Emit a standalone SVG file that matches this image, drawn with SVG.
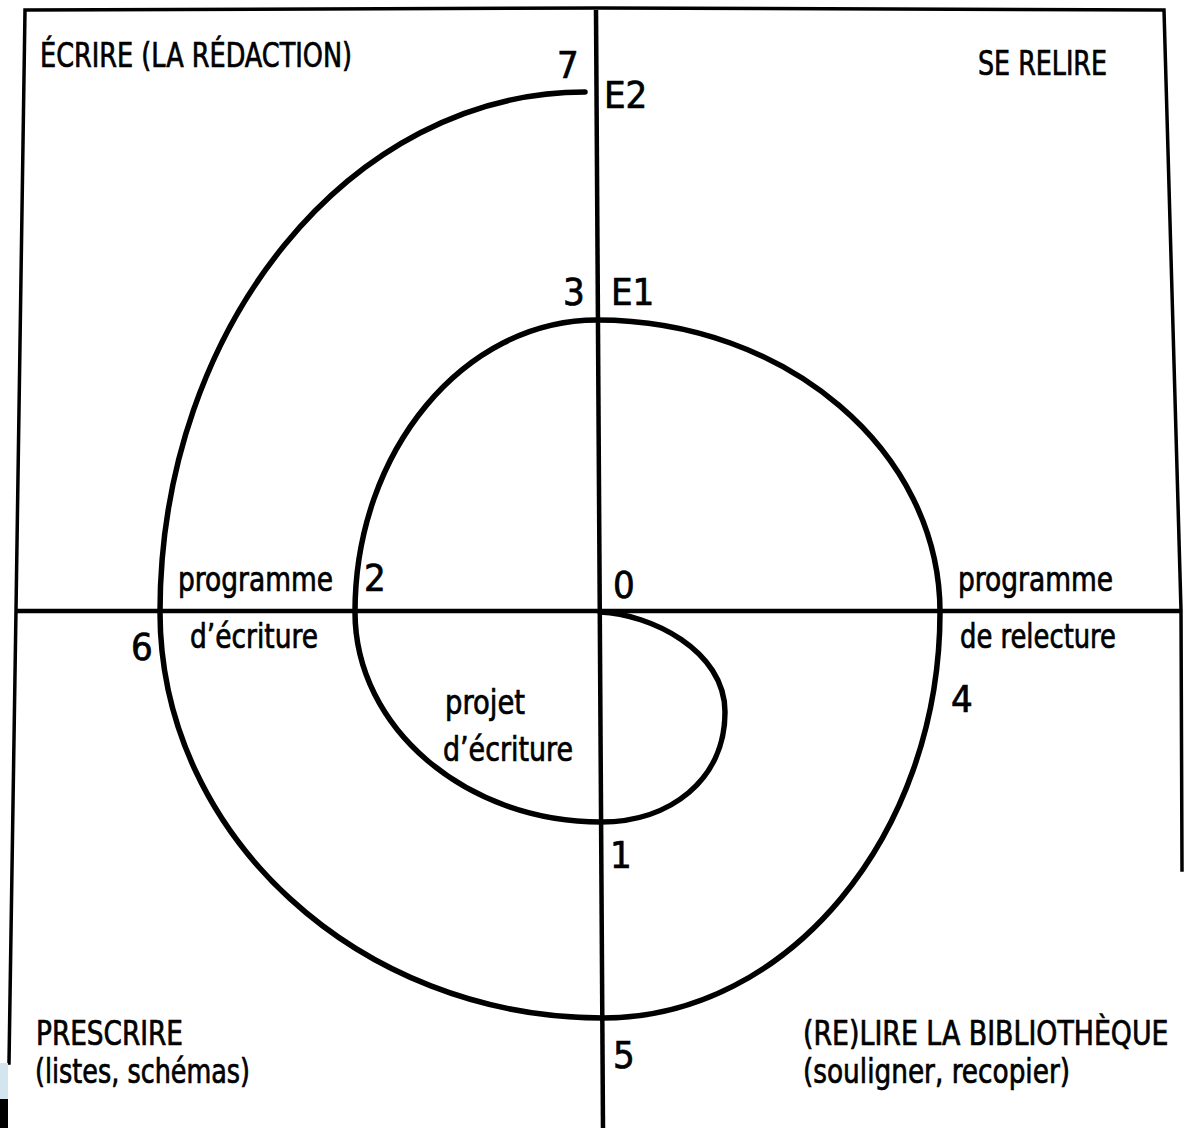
<svg xmlns="http://www.w3.org/2000/svg" width="1190" height="1128" viewBox="0 0 1190 1128">
<style>
.t{font-family:"Liberation Sans Narrow","DejaVu Sans Condensed","Liberation Sans",sans-serif;font-size:34px;fill:#000;stroke:#000;stroke-width:0.7}
.n{font-size:38px}
.frame{fill:none;stroke:#000;stroke-width:3.5;stroke-linecap:square}
.axis{fill:none;stroke:#000;stroke-width:4.5}
.spiral{fill:none;stroke:#000;stroke-width:5.5;stroke-linecap:round}
</style>
<rect width="1190" height="1128" fill="#fff"/>
<g id="connectors">
<polyline class="frame" points="9,1063 16,610 25,10 600,8 1164,10 1181,610 1182,870"/>
<line class="axis" x1="16" y1="611" x2="1181" y2="611"/>
<line class="axis" x1="596" y1="10" x2="603" y2="1128"/>
<path id="spiral" class="spiral" d="M600,612 C650,614 725,650 725,712 C725,780 670,822 601,822 C466,822 355,728 355,612 C355,451 464,320 597,320 C786,320 940,451 940,612 C940,835 788,1018 603,1018 C359,1018 160,835 160,612 C160,326 351,92 585,92"/>
</g>
<g id="artifact">
<rect x="0" y="1063" width="8" height="36" fill="#d3e5ee"/>
<rect x="0" y="1099" width="8" height="29" fill="#000"/>
</g>
<g id="q-ecrire"><text class="t" x="40" y="67" textLength="312" lengthAdjust="spacingAndGlyphs">ÉCRIRE (LA RÉDACTION)</text></g>
<g id="q-relire"><text class="t" x="978" y="75" textLength="129" lengthAdjust="spacingAndGlyphs">SE RELIRE</text></g>
<g id="q-prescrire">
<text class="t" x="36" y="1045" textLength="147" lengthAdjust="spacingAndGlyphs">PRESCRIRE</text>
<text class="t" x="35" y="1083" textLength="215" lengthAdjust="spacingAndGlyphs">(listes, schémas)</text>
</g>
<g id="q-bibliotheque">
<text class="t" transform="matrix(0.85 0 0 1 803 1045)" x="0" y="0" textLength="430" lengthAdjust="spacingAndGlyphs">(RE)LIRE LA BIBLIOTHÈQUE</text>
<text class="t" x="803" y="1083" textLength="267" lengthAdjust="spacingAndGlyphs">(souligner, recopier)</text>
</g>
<g id="p0"><text class="t n" x="613" y="598">0</text></g>
<g id="p1"><text class="t n" x="610" y="868">1</text></g>
<g id="p2"><text class="t n" x="364" y="591">2</text></g>
<g id="p3"><text class="t n" x="563" y="305">3</text></g>
<g id="e1"><text class="t n" x="611" y="305">E1</text></g>
<g id="p4"><text class="t n" x="951" y="712">4</text></g>
<g id="p5"><text class="t n" x="613" y="1068">5</text></g>
<g id="p6"><text class="t n" x="131" y="660">6</text></g>
<g id="p7"><text class="t n" x="557" y="78">7</text></g>
<g id="e2"><text class="t n" x="604" y="108">E2</text></g>
<g id="prog-ecriture">
<text class="t" x="178" y="591" textLength="155" lengthAdjust="spacingAndGlyphs">programme</text>
<text class="t" x="190" y="648" textLength="128" lengthAdjust="spacingAndGlyphs">d’écriture</text>
</g>
<g id="prog-relecture">
<text class="t" x="958" y="591" textLength="155" lengthAdjust="spacingAndGlyphs">programme</text>
<text class="t" x="960" y="648" textLength="156" lengthAdjust="spacingAndGlyphs">de relecture</text>
</g>
<g id="projet">
<text class="t" x="445" y="714" textLength="80" lengthAdjust="spacingAndGlyphs">projet</text>
<text class="t" x="443" y="761" textLength="130" lengthAdjust="spacingAndGlyphs">d’écriture</text>
</g>
</svg>
